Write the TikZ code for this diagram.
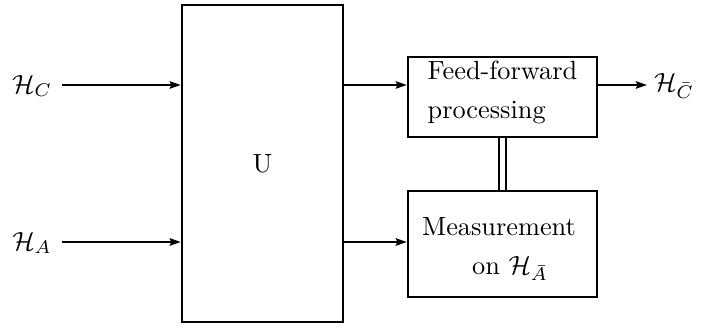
\documentclass[tikz,border=0pt]{standalone}
\usetikzlibrary{arrows.meta}
\begin{document}
\begin{tikzpicture}[x=0.38pt,y=-0.38pt,
  boxnode/.style={draw,line width=0.9pt,inner sep=0pt},
  arr/.style={line width=0.8pt,-{Stealth[length=4.2pt,width=2.8pt,inset=0.6pt]}},
  lbl/.style={inner sep=0pt}]
\useasboundingbox (0,0) rectangle (702,329);
% boxes
\node[boxnode,minimum width=61.2pt,minimum height=120.5pt] (U) at (262.5,163.5) {U};
\node[boxnode,minimum width=71.8pt,minimum height=30.4pt] (FF) at (502.5,97) {};
\node[boxnode,minimum width=71.8pt,minimum height=40.3pt] (M) at (502.5,244) {};
\node[lbl,align=left] (fft) at (502.5,92.5) {Feed-forward\\[2.6pt]processing};
\node[lbl,align=left] (mt) at (499,249) {Measurement\\[3pt]\hspace{19pt}on $\mathcal{H}_{\bar{A}}$};
% labels
\node[lbl] (hc) at (32,86) {$\mathcal{H}_C$};
\node[lbl] (ha) at (32,243) {$\mathcal{H}_A$};
\node[lbl] (hco) at (674,86) {$\mathcal{H}_{\bar{C}}$};
% coordinates
\coordinate (c1) at (62,85);
\coordinate (c2) at (62,242);
\coordinate (r1) at (343,85);
\coordinate (r2) at (343,242);
\coordinate (o1) at (647,85);
% connectors
\draw[arr] (c1) -- (c1 -| U.west);
\draw[arr] (c2) -- (c2 -| U.west);
\draw[arr] (r1 -| U.east) -- (r1 -| FF.west);
\draw[arr] (r2 -| U.east) -- (r2 -| M.west);
\draw[arr] (o1 -| FF.east) -- (o1);
\draw[line width=0.85pt,double,double distance=2pt] (FF.south) -- (M.north);
\end{tikzpicture}
\end{document}
